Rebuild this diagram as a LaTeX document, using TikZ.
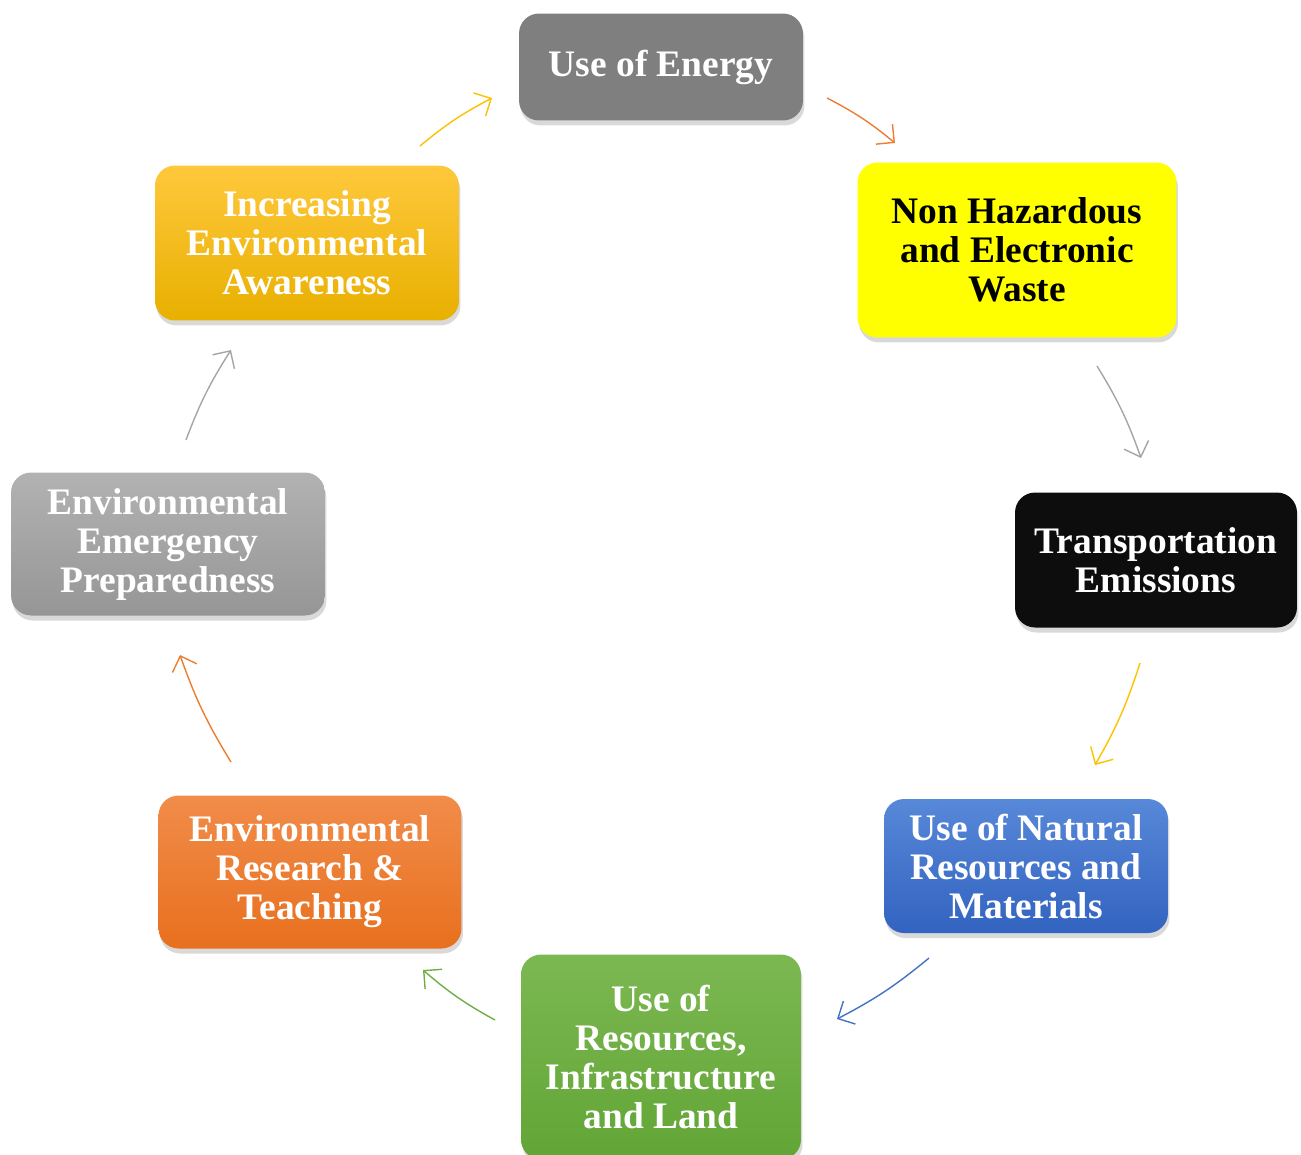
\documentclass[tikz,border=0pt]{standalone}
\usepackage{fontspec}
\setmainfont{Liberation Serif}
\usepackage{tikz}
\usetikzlibrary{arrows.meta, shadows}

\definecolor{cgray}{RGB}{127,127,127}
\definecolor{cyellow}{RGB}{255,255,0}
\definecolor{cblack}{RGB}{13,13,13}
\definecolor{cblueT}{RGB}{88,136,216}
\definecolor{cblueB}{RGB}{50,99,192}
\definecolor{cgreenT}{RGB}{124,184,82}
\definecolor{cgreenB}{RGB}{98,165,54}
\definecolor{corangeT}{RGB}{241,140,74}
\definecolor{corangeB}{RGB}{232,112,30}
\definecolor{clgrayT}{RGB}{178,178,178}
\definecolor{clgrayB}{RGB}{150,150,150}
\definecolor{cgoldT}{RGB}{255,200,60}
\definecolor{cgoldB}{RGB}{232,176,0}
\definecolor{aorange}{RGB}{237,125,49}
\definecolor{agold}{RGB}{255,192,0}
\definecolor{agray}{RGB}{165,165,165}
\definecolor{ablue}{RGB}{68,114,196}
\definecolor{agreen}{RGB}{112,173,71}

\begin{document}
\begin{tikzpicture}[x=0.02cm, y=-0.02cm,
    box/.style={rounded corners=0.4cm, align=center, inner sep=0pt,
        font=\fontsize{21.3}{22.2}\selectfont\bfseries, text=white,
        drop shadow={opacity=0.3, shadow xshift=0.03cm, shadow yshift=-0.1cm}},
    arr/.style={line width=0.8pt, -{Straight Barb[length=2.6mm, width=5.2mm]}}]
\useasboundingbox (0,0) rectangle (1301,1154);
% Boxes of the cycle
\node[box, fill=cgray, minimum width=5.68cm, minimum height=2.14cm] (energy) at (661,67) {Use of Energy};
\node[box, fill=cyellow, text=black, minimum width=6.38cm, minimum height=3.5cm] (waste) at (1017,250) {Non Hazardous\\and Electronic\\Waste};
\node[box, fill=cblack, minimum width=5.64cm, minimum height=2.7cm] (transport) at (1156,560) {Transportation\\Emissions};
\node[box, top color=cblueT, bottom color=cblueB, minimum width=5.68cm, minimum height=2.68cm] (natural) at (1026,866) {Use of Natural\\Resources and\\Materials};
\node[box, top color=cgreenT, bottom color=cgreenB, minimum width=5.6cm, minimum height=4.1cm] (land) at (661,1057) {Use of\\Resources,\\Infrastructure\\and Land};
\node[box, top color=corangeT, bottom color=corangeB, minimum width=6.06cm, minimum height=3.06cm] (research) at (310,872) {Environmental\\Research \&\\Teaching};
\node[box, top color=clgrayT, bottom color=clgrayB, minimum width=6.28cm, minimum height=2.86cm] (emergency) at (168,544) {Environmental\\Emergency\\Preparedness};
\node[box, top color=cgoldT, bottom color=cgoldB, minimum width=6.08cm, minimum height=3.1cm] (awareness) at (307,243) {Increasing\\Environmental\\Awareness};

% Arrow ends
\coordinate (s1) at (420,146);  \coordinate (e1) at (492,98);
\coordinate (s2) at (827,98);   \coordinate (e2) at (895,143);
\coordinate (s3) at (1097,366); \coordinate (e3) at (1141,458);
\coordinate (s4) at (1140,663); \coordinate (e4) at (1095,765);
\coordinate (s5) at (929,958);  \coordinate (e5) at (837,1019);
\coordinate (s6) at (495,1020); \coordinate (e6) at (423,970);
\coordinate (s7) at (231,762);  \coordinate (e7) at (180,655);
\coordinate (s8) at (186,440);  \coordinate (e8) at (231,350);

% Draw cycle arrows
\foreach \i/\c in {1/agold,2/aorange,3/agray,4/agold,5/ablue,6/agreen,7/aorange,8/agray} {
    \draw[arr,\c] (s\i) to[bend left=6] (e\i);
}
\end{tikzpicture}
\end{document}
